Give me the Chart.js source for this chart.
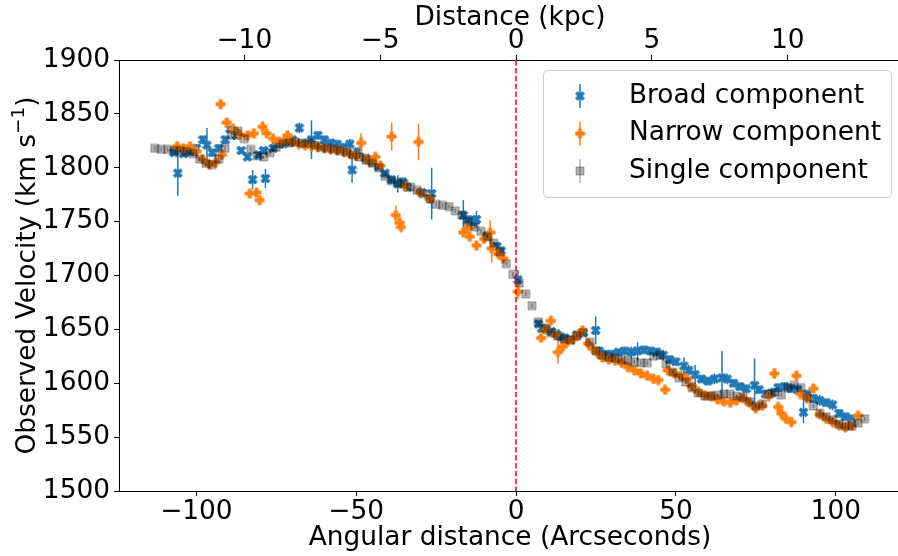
<!DOCTYPE html>
<html>
<head>
<meta charset="utf-8">
<script src="https://cdn.jsdelivr.net/npm/chart.js@4.4.1/dist/chart.umd.min.js"></script>
<style>
    html, body { margin: 0; padding: 0; background: #ffffff; overflow: hidden; }
    #wrap { width: 906px; height: 556px; }
</style>
</head>
<body>
<div id="wrap"><canvas id="velocity-chart" width="906" height="556"></canvas></div>
<script>
// [angular distance (arcsec), velocity (km/s), error]
const broadPoints = [
    [-107, 1814, 3], [-105.8, 1795, 21], [-104, 1813, 3], [-102, 1815, 3], [-100, 1818, 4], [-98, 1826, 4],
    [-96.7, 1821, 16], [-95, 1814, 4], [-93, 1818, 4], [-91, 1826, 4], [-89.5, 1836, 3], [-87.5, 1830, 3],
    [-86, 1816, 3], [-84, 1810, 3], [-82.4, 1789, 9], [-80.5, 1812, 3], [-79, 1816, 3], [-78.4, 1790, 9],
    [-76, 1818, 3], [-74, 1822, 3], [-72, 1824, 3], [-70, 1826, 4], [-67.8, 1837, 5], [-66, 1822, 3],
    [-64, 1826, 18], [-62, 1830, 4], [-60, 1826, 4], [-58, 1823, 4], [-56, 1822, 4], [-54, 1819, 4],
    [-52, 1822, 5], [-51.3, 1798, 12], [-49.5, 1815, 4], [-47, 1809, 4], [-45, 1805, 3], [-43, 1801, 3],
    [-41, 1795, 3], [-39, 1789, 4], [-37, 1785, 8], [-35.5, 1787, 4], [-34, 1782, 3], [-29.5, 1777, 4],
    [-26.4, 1776, 24], [-16.5, 1756, 14], [-15, 1752, 4], [-13.5, 1750, 4], [-12.4, 1752, 8], [-9, 1737, 4],
    [-6, 1727, 4], [-4.7, 1723, 4], [0.6, 1696, 9], [7, 1655, 3], [8, 1651, 3], [9.5, 1650, 3],
    [11, 1648, 3], [12.5, 1646, 3], [14, 1643, 3], [15.2, 1642, 3], [17, 1641, 3], [19, 1645, 3],
    [21, 1647, 3], [24.9, 1649, 13], [26, 1630, 4], [28, 1627, 4], [30, 1627, 4], [32, 1629, 3],
    [34, 1630, 4], [36, 1629, 5], [38, 1630, 8], [40, 1631, 4], [42, 1630, 4], [44, 1629, 4],
    [46, 1626, 5], [48, 1622, 4], [50, 1620, 4], [52.5, 1616, 8], [54, 1612, 5], [56, 1608, 9],
    [58, 1604, 4], [60, 1602, 4], [62, 1604, 5], [64.4, 1605, 25], [66, 1604, 5], [68, 1600, 4],
    [70, 1597, 4], [72, 1595, 4], [74.6, 1598, 25], [76, 1594, 4], [78, 1590, 4], [80, 1591, 4],
    [82, 1596, 4], [84, 1597, 4], [86, 1595, 4], [88, 1594, 4], [89.9, 1573, 10], [91, 1590, 4],
    [93, 1586, 4], [95, 1584, 5], [97, 1582, 4], [99, 1580, 5], [101, 1572, 4], [103, 1569, 4],
    [105, 1567, 4]
]

const narrowPoints = [
    [-106, 1820, 3], [-104, 1818, 3], [-102, 1820, 3], [-100, 1815, 3], [-98, 1808, 3], [-96, 1803, 3],
    [-94, 1805, 3], [-92.4, 1859, 4], [-92, 1812, 3], [-90.5, 1842, 4], [-88.5, 1836, 3], [-86.5, 1831, 3],
    [-84, 1830, 3], [-83.3, 1776, 4], [-82, 1832, 3], [-81.2, 1777, 4], [-80.2, 1770, 4], [-79.3, 1838, 4],
    [-78, 1832, 3], [-76, 1827, 3], [-74, 1824, 3], [-72, 1826, 3], [-71.5, 1830, 3], [-70, 1824, 3],
    [-68, 1822, 3], [-66, 1821, 3], [-64, 1820, 3], [-62, 1819, 3], [-60, 1818, 3], [-58, 1817, 3],
    [-56, 1816, 3], [-54, 1815, 3], [-52, 1813, 3], [-50, 1811, 3], [-48.5, 1823, 9], [-47, 1808, 3],
    [-45, 1806, 3], [-44, 1810, 4], [-42.5, 1802, 3], [-38.9, 1829, 13], [-37.6, 1756, 9], [-36.4, 1749, 4],
    [-36, 1745, 4], [-34.5, 1783, 3], [-30.5, 1824, 17], [-30, 1777, 3], [-27, 1771, 3], [-16.5, 1740, 4],
    [-15, 1744, 3], [-14.5, 1736, 3], [-12.4, 1728, 4], [-10, 1734, 3], [-8.1, 1740, 11], [-7.6, 1725, 13],
    [-5.5, 1720, 3], [-4, 1716, 4], [0.6, 1685, 7], [7.8, 1642, 4], [9.3, 1650, 3], [10.9, 1658, 4],
    [12.4, 1645, 3], [13.1, 1629, 11], [14.6, 1634, 4], [16.2, 1639, 3], [18, 1641, 3], [19.5, 1645, 3],
    [20.8, 1649, 3], [22.5, 1637, 3], [24, 1632, 3], [25.5, 1628, 3], [27, 1624, 3], [29, 1622, 3],
    [31, 1621, 3], [33, 1619, 3], [35, 1615, 3], [37, 1612, 3], [39, 1609, 3], [41, 1607, 3],
    [43, 1604, 3], [44.5, 1603, 3], [46.6, 1594, 4], [47.5, 1612, 3], [49.5, 1609, 3], [51.5, 1607, 3],
    [53.5, 1604, 3], [55, 1597, 3], [57, 1592, 3], [59, 1589, 3], [61, 1588, 3], [63, 1585, 3],
    [65, 1583, 3], [67, 1582, 3], [69, 1584, 3], [71, 1586, 3], [73, 1582, 3], [75, 1577, 3],
    [77, 1579, 3], [79, 1588, 3], [80.8, 1609, 5], [82, 1578, 3], [83, 1572, 3], [84.4, 1567, 3],
    [86.1, 1564, 4], [87.7, 1607, 4], [89, 1590, 3], [91, 1586, 3], [93, 1595, 4], [95, 1571, 3],
    [97, 1567, 3], [99, 1564, 3], [101, 1561, 3], [103, 1559, 3], [105, 1561, 3], [107, 1570, 3]
]

const singlePoints = [
    [-113, 1818, 2], [-111, 1817, 2], [-109, 1817, 2], [-107, 1816, 2], [-105, 1816, 2], [-103, 1815, 2],
    [-101, 1813, 2], [-99, 1808, 2], [-97, 1804, 2], [-95, 1803, 2], [-93, 1808, 2], [-91, 1818, 3],
    [-89, 1830, 2], [-87, 1834, 2], [-85, 1827, 2], [-83, 1817, 2], [-81, 1811, 2], [-79, 1810, 2],
    [-77, 1814, 2], [-75, 1819, 2], [-73, 1822, 2], [-71, 1823, 2], [-69, 1824, 2], [-67, 1823, 2],
    [-65, 1823, 2], [-63, 1821, 2], [-61, 1819, 2], [-59, 1818, 2], [-57, 1817, 2], [-55, 1816, 2],
    [-53, 1814, 2], [-51, 1812, 2], [-49, 1810, 2], [-47, 1807, 2], [-45, 1804, 2], [-43, 1800, 2],
    [-41, 1792, 2], [-39, 1788, 2], [-37, 1786, 2], [-35, 1785, 2], [-33, 1782, 2], [-31, 1779, 2],
    [-29, 1776, 2], [-27, 1771, 2], [-25, 1766, 2], [-23, 1765, 2], [-21, 1764, 2], [-19, 1760, 2],
    [-17, 1756, 2], [-15, 1750, 2], [-13, 1745, 2], [-11, 1741, 2], [-9, 1736, 2], [-7, 1730, 2],
    [-5, 1722, 2], [-3, 1711, 2], [-1, 1701, 2], [1, 1693, 2], [3, 1683, 2], [5, 1672, 2],
    [7, 1657, 2], [9, 1651, 2], [11, 1647, 2], [13, 1644, 2], [15, 1641, 2], [17, 1640, 2],
    [19, 1644, 2], [21, 1647, 2], [23, 1638, 2], [25, 1630, 2], [27, 1626, 2], [29, 1624, 2],
    [31, 1623, 2], [33, 1622, 2], [35, 1621, 2], [37, 1620, 2], [39, 1619, 2], [41, 1619, 2],
    [43, 1625, 2], [45, 1626, 2], [47, 1618, 2], [49, 1610, 2], [51, 1605, 2], [53, 1601, 2],
    [55, 1596, 2], [57, 1591, 2], [59, 1588, 2], [61, 1588, 2], [63, 1589, 2], [65, 1590, 2],
    [67, 1590, 2], [69, 1588, 2], [71, 1587, 2], [73, 1583, 2], [75, 1579, 2], [77, 1581, 2],
    [79, 1590, 2], [81, 1592, 2], [83, 1589, 2], [85, 1596, 2], [87, 1598, 2], [89, 1596, 2],
    [91, 1587, 2], [93, 1579, 2], [95, 1572, 2], [97, 1569, 2], [99, 1566, 2], [101, 1562, 2],
    [103, 1560, 2], [105, 1560, 2], [107, 1563, 2], [109, 1567, 2]
]

const seriesLabels = ["Broad component", "Narrow component", "Single component"]
const arcsecTicks = [-100, -50, 0, 50, 100]
const kpcTicks = [-10, -5, 0, 5, 10]
const velocityTicks = [1500, 1550, 1600, 1650, 1700, 1750, 1800, 1850, 1900]

const ARCSEC_PER_KPC = 8.5
const X_MIN = -124.2
const X_MAX = 120.4
const FONT = "'DejaVu Sans', sans-serif"
const FONT_SIZE = 26.4
const BLUE = "#1f77b4"
const ORANGE = "#ff7f0e"

function minusSign(v) {
    return v < 0 ? "\u2212" + Math.abs(v) : String(v)
}

// matplotlib-like filled markers ('X', 'P', 's') as little canvases
function makeMarker(kind, fill, edge, size) {
    const c = document.createElement("canvas")
    const s = size + 2
    c.width = s
    c.height = s
    const ctx = c.getContext("2d")
    ctx.translate(s / 2, s / 2)
    let pts
    if (kind === "X") {
        pts = [[-1, -2], [0, -1], [1, -2], [2, -1], [1, 0], [2, 1], [1, 2], [0, 1], [-1, 2], [-2, 1], [-1, 0], [-2, -1]]
            .map(([a, b]) => [a / 4, b / 4])
    } else if (kind === "P") {
        pts = [[-1, -3], [1, -3], [1, -1], [3, -1], [3, 1], [1, 1], [1, 3], [-1, 3], [-1, 1], [-3, 1], [-3, -1], [-1, -1]]
            .map(([a, b]) => [a / 6, b / 6])
    } else {
        pts = [[-0.5, -0.5], [0.5, -0.5], [0.5, 0.5], [-0.5, 0.5]]
    }
    ctx.beginPath()
    pts.forEach(([a, b], i) => i ? ctx.lineTo(a * size, b * size) : ctx.moveTo(a * size, b * size))
    ctx.closePath()
    ctx.fillStyle = fill
    ctx.fill()
    ctx.lineWidth = 1
    ctx.strokeStyle = edge
    ctx.stroke()
    return c
}

const broadMarker = makeMarker("X", BLUE, BLUE, 9)
const narrowMarker = makeMarker("P", ORANGE, ORANGE, 9)
const singleMarker = makeMarker("s", "rgba(0,0,0,0.3)", "rgba(0,0,0,0.3)", 8)

const errorBarPlugin = {
    id: "errorBars",
    beforeDatasetDraw: (chart, args) => {
        const ds = chart.data.datasets[args.index]
        if (!ds.errors) return
        const { ctx, scales: { x, y } } = chart
        ctx.save()
        ctx.strokeStyle = ds.errorColor
        ctx.lineWidth = 1.5
        ds.data.forEach((p, i) => {
            const px = x.getPixelForValue(p.x)
            ctx.beginPath()
            ctx.moveTo(px, y.getPixelForValue(p.y - ds.errors[i]))
            ctx.lineTo(px, y.getPixelForValue(p.y + ds.errors[i]))
            ctx.stroke()
        })
        ctx.restore()
    }
}

const zeroLinePlugin = {
    id: "zeroLine",
    afterDatasetsDraw: (chart) => {
        const { ctx, chartArea, scales: { x } } = chart
        const px = x.getPixelForValue(0)
        ctx.save()
        ctx.strokeStyle = "#ff0000"
        ctx.lineWidth = 1.5
        ctx.setLineDash([5.5, 2.4])
        ctx.beginPath()
        ctx.moveTo(px, chartArea.top)
        ctx.lineTo(px, chartArea.bottom)
        ctx.stroke()
        ctx.restore()
    }
}

// y title with a raised "-1" like mathtext
const velocityTitlePlugin = {
    id: "velocityTitle",
    afterDraw: (chart) => {
        const { ctx, chartArea } = chart
        const main = "Observed Velocity (km s"
        const sup = "\u22121"
        const small = FONT_SIZE * 0.7
        ctx.save()
        ctx.font = FONT_SIZE + "px " + FONT
        const w1 = ctx.measureText(main).width
        const w3 = ctx.measureText(")").width
        ctx.font = small + "px " + FONT
        const w2 = ctx.measureText(sup).width
        const total = w1 + w2 + w3
        ctx.translate(28, (chartArea.top + chartArea.bottom) / 2)
        ctx.rotate(-Math.PI / 2)
        ctx.fillStyle = "#000000"
        ctx.textBaseline = "middle"
        ctx.textAlign = "left"
        let x0 = -total / 2
        ctx.font = FONT_SIZE + "px " + FONT
        ctx.fillText(main, x0, 0)
        ctx.font = small + "px " + FONT
        ctx.fillText(sup, x0 + w1, -9)
        ctx.font = FONT_SIZE + "px " + FONT
        ctx.fillText(")", x0 + w1 + w2, 0)
        ctx.restore()
    }
}

const boxLegendPlugin = {
    id: "boxLegend",
    afterDraw: (chart) => {
        const { ctx } = chart
        const entries = [
            { marker: broadMarker, line: BLUE },
            { marker: narrowMarker, line: ORANGE },
            { marker: singleMarker, line: "rgba(0,0,0,0.3)" }
        ]
        ctx.save()
        ctx.beginPath()
        ctx.roundRect(543.5, 70.5, 348, 127, 4)
        ctx.fillStyle = "rgba(255,255,255,0.8)"
        ctx.fill()
        ctx.strokeStyle = "#cccccc"
        ctx.lineWidth = 1
        ctx.stroke()
        ctx.font = FONT_SIZE + "px " + FONT
        ctx.textBaseline = "middle"
        ctx.fillStyle = "#000000"
        entries.forEach((e, i) => {
            const cy = 96 + i * 37.5
            ctx.strokeStyle = e.line
            ctx.lineWidth = 1.5
            ctx.beginPath()
            ctx.moveTo(580, cy - 12)
            ctx.lineTo(580, cy + 12)
            ctx.stroke()
            ctx.drawImage(e.marker, 580 - e.marker.width / 2, cy - e.marker.height / 2)
            ctx.fillText(seriesLabels[i], 629, cy)
        })
        ctx.restore()
    }
}

function toXY(points) {
    return points.map(p => ({ x: p[0], y: p[1] }))
}

const tickFont = { family: FONT, size: FONT_SIZE }

new Chart(document.getElementById("velocity-chart").getContext("2d"), {
    type: "scatter",
    data: {
        datasets: [
            {
                label: seriesLabels[0],
                data: toXY(broadPoints),
                errors: broadPoints.map(p => p[2]),
                errorColor: BLUE,
                pointStyle: broadMarker,
                order: 3
            },
            {
                label: seriesLabels[1],
                data: toXY(narrowPoints),
                errors: narrowPoints.map(p => p[2]),
                errorColor: ORANGE,
                pointStyle: narrowMarker,
                order: 2
            },
            {
                label: seriesLabels[2],
                data: toXY(singlePoints),
                errors: singlePoints.map(p => p[2]),
                errorColor: "rgba(0,0,0,0.3)",
                pointStyle: singleMarker,
                order: 1
            }
        ]
    },
    options: {
        responsive: false,
        maintainAspectRatio: false,
        devicePixelRatio: 1,
        animation: false,
        events: [],
        layout: { padding: 0 },
        plugins: {
            legend: { display: false },
            tooltip: { enabled: false }
        },
        scales: {
            x: {
                type: "linear",
                position: "bottom",
                min: X_MIN,
                max: X_MAX,
                afterBuildTicks: s => { s.ticks = arcsecTicks.map(v => ({ value: v })) },
                afterFit: s => { s.height = 65 },
                grid: { drawOnChartArea: false, tickLength: 5, tickColor: "#000", tickWidth: 1 },
                border: { display: true, color: "#000", width: 1 },
                ticks: { color: "#000", font: tickFont, padding: 0, maxRotation: 0, callback: v => minusSign(v) },
                title: { display: true, text: "Angular distance (Arcseconds)", color: "#000", font: tickFont, padding: { top: 0, bottom: 2.2 } }
            },
            x2: {
                type: "linear",
                position: "top",
                min: X_MIN / ARCSEC_PER_KPC,
                max: X_MAX / ARCSEC_PER_KPC,
                afterBuildTicks: s => { s.ticks = kpcTicks.map(v => ({ value: v })) },
                afterFit: s => { s.height = 60 },
                grid: { drawOnChartArea: false, tickLength: 5, tickColor: "#000", tickWidth: 1 },
                border: { display: true, color: "#000", width: 1 },
                ticks: { color: "#000", font: tickFont, padding: -2, maxRotation: 0, callback: v => minusSign(v) },
                title: { display: true, text: "Distance (kpc)", color: "#000", font: tickFont, padding: { top: 2.2, bottom: 0 } }
            },
            y: {
                type: "linear",
                position: "left",
                min: 1500,
                max: 1900,
                afterBuildTicks: s => { s.ticks = velocityTicks.map(v => ({ value: v })) },
                afterFit: s => { s.width = 119 },
                grid: { drawOnChartArea: false, tickLength: 5, tickColor: "#000", tickWidth: 1 },
                border: { display: true, color: "#000", width: 1 },
                ticks: { color: "#000", font: tickFont, padding: 4, callback: v => String(v) },
                title: { display: false }
            }
        }
    },
    plugins: [errorBarPlugin, zeroLinePlugin, velocityTitlePlugin, boxLegendPlugin]
})
</script>
</body>
</html>
